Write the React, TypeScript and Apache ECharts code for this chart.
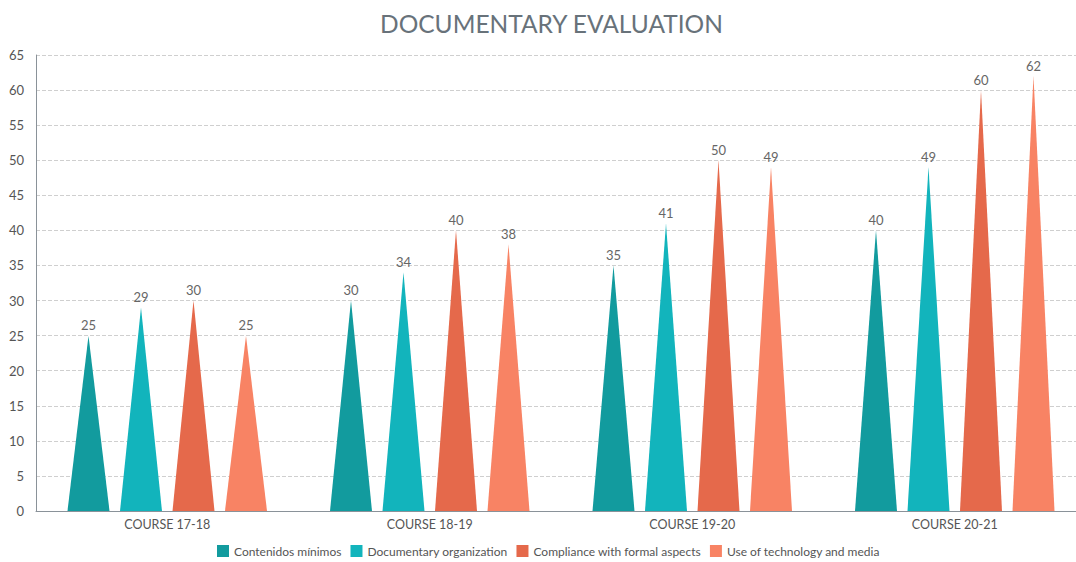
import React, { useEffect, useRef } from "react";
import * as echarts from "echarts";

const categories = ["COURSE 17-18", "COURSE 18-19", "COURSE 19-20", "COURSE 20-21"];
const seriesNames = [
  "Contenidos mínimos",
  "Documentary organization",
  "Compliance with formal aspects",
  "Use of technology and media",
];
const contenidos = [25, 30, 35, 40];
const organization = [29, 34, 41, 49];
const compliance = [30, 40, 50, 60];
const technology = [25, 38, 49, 62];
const colors = ["#129B9E", "#12B4BC", "#E5694B", "#F88364"];

export default function App() {
  const ref = useRef<HTMLDivElement>(null);
  useEffect(() => {
    if (!ref.current) return;
    const chart = echarts.init(ref.current, null, { renderer: "svg" });
    const data = [contenidos, organization, compliance, technology];
    const font = "Lato, 'Open Sans', sans-serif";
    chart.setOption({
      animation: false,
      color: colors,
      textStyle: { fontFamily: font },
      title: {
        text: "DOCUMENTARY EVALUATION",
        left: 375,
        top: 6,
        textStyle: { fontFamily: font, fontSize: 24.5, fontWeight: "normal", color: "#68727A" },
      },
      legend: {
        bottom: 0,
        left: 212,
        itemWidth: 12,
        itemHeight: 12,
        itemGap: 9,
        icon: "rect",
        textStyle: { fontFamily: font, fontSize: 12, color: "#555" },
        data: seriesNames,
      },
      grid: { left: 36, right: 0, top: 55, bottom: 51 },
      xAxis: {
        type: "category",
        data: categories,
        axisLine: { lineStyle: { color: "#8a9299" } },
        axisTick: { show: false },
        axisLabel: { fontFamily: font, fontSize: 12.5, color: "#555", margin: 7 },
      },
      yAxis: {
        type: "value",
        min: 0,
        max: 65,
        interval: 5,
        axisLine: { show: true, lineStyle: { color: "#8a9299" } },
        axisTick: { show: false },
        axisLabel: { fontFamily: font, fontSize: 13, color: "#555", margin: 12 },
        splitLine: { lineStyle: { type: "dashed", color: "#cfcfcf" } },
      },
      series: seriesNames.map((name, i) => ({
        name,
        type: "pictorialBar",
        symbol: "triangle",
        symbolSize: ["100%", "100%"],
        barGap: "25%",
        barCategoryGap: "24%",
        data: data[i],
        itemStyle: { color: colors[i] },
        label: {
          show: true,
          position: "top",
          fontFamily: font,
          fontSize: 13,
          color: "#666",
          distance: 4,
        },
      })),
    });
    return () => chart.dispose();
  }, []);
  return (
    <div
      style={{
        position: "absolute",
        left: 0,
        top: 0,
        width: 1076,
        height: 562,
        overflow: "hidden",
      }}
    >
      <div ref={ref} style={{ width: 1086, height: 562 }} />
    </div>
  );
}
